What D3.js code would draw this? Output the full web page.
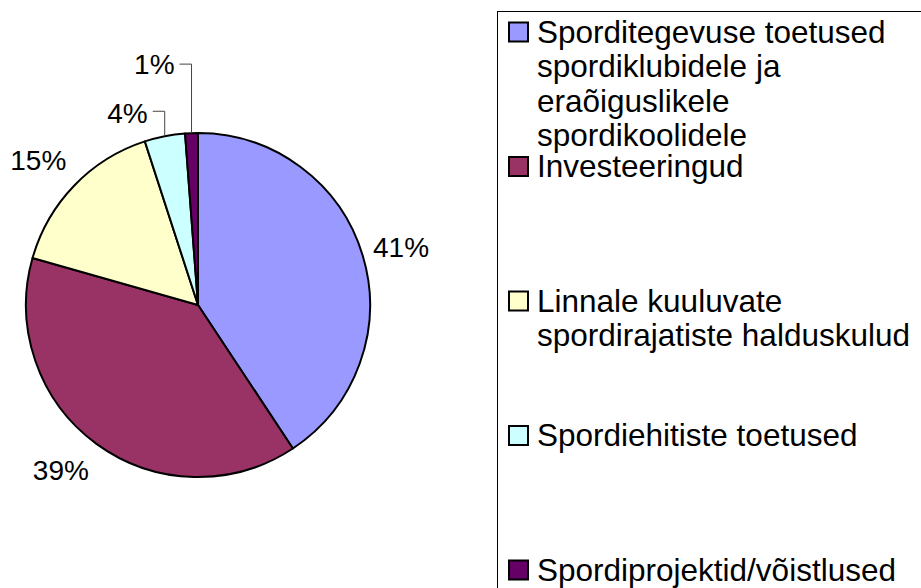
<!DOCTYPE html>
<html>
    <head>
        <meta charset="utf-8">
        <style>
            body {
                margin: 0;
                background: #fff;
            }

            svg {
                display: block;
                font-family: 'Liberation Sans', Arial, sans-serif;
            }

            .label {
                font-size: 28px;
                fill: #000;
            }

            .legend-text {
                font-size: 31.5px;
                fill: #000;
            }
        </style>
    </head>

    <body>
        <svg width="921" height="588"></svg>

        <script src="https://d3js.org/d3.v7.min.js"></script>

        <script>
            // slices, clockwise from 12 o'clock
            let categories = [
                ["Sporditegevuse toetused", "spordiklubidele ja", "eraõiguslikele", "spordikoolidele"],
                ["Investeeringud"],
                ["Linnale kuuluvate", "spordirajatiste halduskulud"],
                ["Spordiehitiste toetused"],
                ["Spordiprojektid/võistlused"]
            ]
            let values = [40.7, 38.7, 15.6, 3.8, 1.2]
            let labels = ["41%", "39%", "15%", "4%", "1%"]
            let colors = ["#9999FF", "#993366", "#FFFFCC", "#CCFFFF", "#660066"]

            // layout: how far the leader climbs above the rim (0 = no leader)
            let leaderRise = [0, 0, 0, 25, 69]
            // layout: small nudges so labels sit where excel put them
            let labelNudge = [[0, 3], [-12, -6], [-7, 2], [0, 2], [0, 0]]

            let svg = d3.select("svg")

            let cx = 198
            let cy = 305
            let radius = 172

            let pie = d3.pie()
                .sort(null)
                .value(d => d)

            let arcs = pie(values)

            let arc = d3.arc()
                .innerRadius(0)
                .outerRadius(radius)

            let g = svg.append("g")
                .attr("transform", `translate(${cx}, ${cy})`)

            g.selectAll(".slice")
                .data(arcs)
                .join("path")
                .attr("class", "slice")
                .attr("d", arc)
                .attr("fill", (d, i) => colors[i])
                .attr("stroke", "#000")
                .attr("stroke-width", 2)
                .attr("stroke-linejoin", "round")

            let mid = d => (d.startAngle + d.endAngle) / 2

            // big slices: label out along the middle angle
            let labelRadius = 212
            g.selectAll(".label")
                .data(arcs.filter((d, i) => leaderRise[i] == 0))
                .join("text")
                .attr("class", "label")
                .attr("x", d => labelRadius * Math.sin(mid(d)) + labelNudge[d.index][0])
                .attr("y", d => -labelRadius * Math.cos(mid(d)) + labelNudge[d.index][1])
                .attr("text-anchor", "middle")
                .attr("dy", "0.35em")
                .text(d => labels[d.index])

            // small slices: leader goes up from the rim, then left to the label
            let small = arcs.filter((d, i) => leaderRise[i] > 0)

            g.selectAll(".leader")
                .data(small)
                .join("path")
                .attr("class", "leader")
                .attr("fill", "none")
                .attr("stroke", "#444")
                .attr("stroke-width", 1)
                .attr("d", d => {
                    let x0 = radius * Math.sin(mid(d))
                    let y0 = -radius * Math.cos(mid(d))
                    let y1 = y0 - leaderRise[d.index]
                    return `M${x0},${y0}V${y1}H${x0 - 12}`
                })

            g.selectAll(".small-label")
                .data(small)
                .join("text")
                .attr("class", "label")
                .attr("x", d => radius * Math.sin(mid(d)) - 17 + labelNudge[d.index][0])
                .attr("y", d => -radius * Math.cos(mid(d)) - leaderRise[d.index] + labelNudge[d.index][1])
                .attr("text-anchor", "end")
                .attr("dy", "0.35em")
                .text(d => labels[d.index])

            // legend
            let legendX = 497.5
            let legendY = 11.5
            let rowStep = 134.5
            let lineStep = 34.5
            let firstRow = 32
            let box = 19

            svg.append("rect")
                .attr("x", legendX)
                .attr("y", legendY)
                .attr("width", 500)
                .attr("height", 700)
                .attr("fill", "#fff")
                .attr("stroke", "#000")
                .attr("stroke-width", 1)

            let rows = svg.selectAll(".legend-row")
                .data(categories)
                .join("g")
                .attr("class", "legend-row")
                .attr("transform", (d, i) => `translate(0, ${firstRow + i * rowStep})`)

            rows.append("rect")
                .attr("x", 509)
                .attr("y", -box / 2)
                .attr("width", box)
                .attr("height", box)
                .attr("fill", (d, i) => colors[i])
                .attr("stroke", "#000")
                .attr("stroke-width", 2)

            rows.append("text")
                .attr("class", "legend-text")
                .selectAll("tspan")
                .data(d => d)
                .join("tspan")
                .attr("x", 537)
                .attr("y", (d, j) => 10.5 + j * lineStep)
                .text(d => d)
        </script>
    </body>
</html>
